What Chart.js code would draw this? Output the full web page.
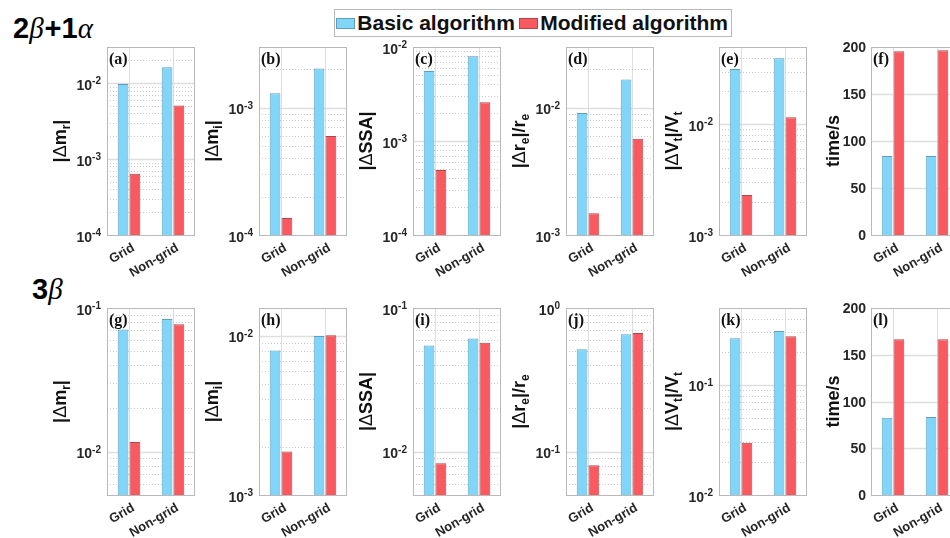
<!DOCTYPE html>
<html>
<head>
<meta charset="utf-8">
<script src="https://cdn.jsdelivr.net/npm/chart.js@4.4.1/dist/chart.umd.min.js"></script>
<style>
  html, body { margin: 0; padding: 0; background: #fff; }
  body { width: 950px; height: 538px; overflow: hidden; position: relative; font-family: 'Liberation Sans', Arial, sans-serif; }
  canvas.panel { position: absolute; }
  #legend { position: absolute; left: 334px; top: 9px; width: 396px; height: 26px; border: 1px solid #b8b8b8; background: #fff;
            display: flex; align-items: center; font-weight: bold; font-size: 21px; color: #111; white-space: nowrap; }
  #legend .sw { display: inline-block; width: 18px; height: 9px; border: 1px solid; margin: 0 2px 0 1px; }
  #legend .lbl { margin-right: 3px; }
  .rowTitle { position: absolute; font-size: 29px; color: #000; white-space: nowrap; line-height: 1; }
  .rowTitle b { font-family: 'Liberation Sans', Arial, sans-serif; font-weight: bold; }
  .rowTitle i { font-family: 'Liberation Serif', 'Times New Roman', serif; font-style: italic; font-weight: normal; padding-right: 1px; }
</style>
</head>
<body>
<div id="legend"></div>
<div class="rowTitle" style="left:13px; top:14px;"><b>2</b><i>β</i><b>+1</b><i>α</i></div>
<div class="rowTitle" style="left:32px; top:275px;"><b>3</b><i>β</i></div>

<script>
// Categories and series
const categories = ['Grid', 'Non-grid'];
const seriesNames = ['Basic algorithm', 'Modified algorithm'];
const panelTags = ['(a)', '(b)', '(c)', '(d)', '(e)', '(f)', '(g)', '(h)', '(i)', '(j)', '(k)', '(l)'];

// Values per panel: [Grid, Non-grid]
const basicValues = [
  [0.0098, 0.0162], [1.30e-3, 2.03e-3], [5.55e-3, 7.96e-3], [9.1e-3, 0.0167], [0.0316, 0.0395], [84, 84],
  [0.071, 0.084], [8.1e-3, 1.00e-2], [0.0549, 0.0614], [0.516, 0.656], [0.265, 0.309], [82.7, 83.4]
];
const modifiedValues = [
  [6.4e-4, 5.1e-3], [1.36e-4, 6.0e-4], [4.9e-4, 2.58e-3], [1.48e-3, 5.7e-3], [2.3e-3, 0.0116], [195.4, 196.5],
  [0.0117, 0.0772], [1.88e-3, 1.01e-2], [8.3e-3, 0.0573], [0.0804, 0.67], [0.0298, 0.277], [166.5, 166.5]
];

// Axis limits and scale types
const yMin = [1e-4, 1e-4, 1e-4, 1e-3, 1e-3, 0, 5e-3, 1e-3, 5e-3, 5e-2, 1e-2, 0];
const yMax = [3e-2, 3e-3, 1e-2, 3e-2, 5e-2, 200, 1e-1, 1.5e-2, 1e-1, 1, 5e-1, 200];
const yLog = [true, true, true, true, true, false, true, true, true, true, true, false];
const timeTicks = [0, 50, 100, 150, 200];

// Y-axis titles as text runs (sub = subscript, sym = symbol glyph)
const yTitles = [
  [{t: '|'}, {t: 'Δ', sym: true}, {t: 'm'}, {t: 'r', sub: true}, {t: '|'}],
  [{t: '|'}, {t: 'Δ', sym: true}, {t: 'm'}, {t: 'i', sub: true}, {t: '|'}],
  [{t: '|'}, {t: 'Δ', sym: true}, {t: 'SSA|'}],
  [{t: '|'}, {t: 'Δ', sym: true}, {t: 'r'}, {t: 'e', sub: true}, {t: '|/r'}, {t: 'e', sub: true}],
  [{t: '|'}, {t: 'Δ', sym: true}, {t: 'V'}, {t: 't', sub: true}, {t: '|/V'}, {t: 't', sub: true}],
  [{t: 'time/s'}]
];

// Style
const BLUE = '#80d5f9', BLUE_EDGE = '#5f9fbd';
const RED = '#fa5a5f', RED_EDGE = '#b2464b';
const BOX = '#b9b9b9', GRID_MAJOR = '#dedede', GRID_MINOR = '#c9c9c9';
const SANS = "'Liberation Sans', Arial, sans-serif";
const SERIF = "'Liberation Serif', 'Times New Roman', serif";

// Legend
(function buildLegend() {
  const lg = document.getElementById('legend');
  const fills = [[BLUE, BLUE_EDGE], [RED, RED_EDGE]];
  seriesNames.forEach((name, i) => {
    const sw = document.createElement('span');
    sw.className = 'sw';
    sw.style.background = fills[i][0];
    sw.style.borderColor = fills[i][1];
    const tx = document.createElement('span');
    tx.className = 'lbl';
    tx.textContent = name;
    lg.appendChild(sw);
    lg.appendChild(tx);
  });
})();

// Panel geometry
const colLeft = [107, 259, 413, 566, 719, 871];
const rowTop = [47, 308];
const rowH = [188, 187];
const PLOT_W = 88;
const PAD_L = 100, PAD_T = 12, PAD_R = 4, PAD_B = 50;

function drawRuns(ctx, runs, size) {
  const parts = runs.map(r => {
    const f = r.sub ? `bold ${Math.round(size * 0.68)}px ${SANS}`
            : r.sym ? `${size}px ${SANS}`
            : `bold ${size}px ${SANS}`;
    ctx.font = f;
    return {r, f, w: ctx.measureText(r.t).width};
  });
  const total = parts.reduce((s, p) => s + p.w, 0);
  let x = -total / 2;
  ctx.textBaseline = 'middle';
  ctx.textAlign = 'left';
  parts.forEach(p => {
    ctx.font = p.f;
    ctx.fillText(p.r.t, x, p.r.sub ? 6 : 0);
    x += p.w;
  });
}

const panelDecor = {
  id: 'panelDecor',
  beforeDatasetsDraw(chart, args, opts) {
    const {ctx, chartArea: a, scales: {x, y}} = chart;
    const p = opts.index;
    ctx.save();
    // vertical grid at categories
    ctx.strokeStyle = GRID_MAJOR;
    ctx.lineWidth = 1;
    categories.forEach((c, i) => {
      const px = Math.round(x.getPixelForValue(i)) + 0.5;
      ctx.beginPath(); ctx.moveTo(px, a.top); ctx.lineTo(px, a.bottom); ctx.stroke();
    });
    if (yLog[p]) {
      const k0 = Math.floor(Math.log10(yMin[p]) + 1e-9), k1 = Math.ceil(Math.log10(yMax[p]) - 1e-9);
      for (let k = k0; k <= k1; k++) {
        for (let m = 1; m <= 9; m++) {
          const v = m * Math.pow(10, k);
          if (v <= yMin[p] * 1.0001 || v >= yMax[p] * 0.9999) continue;
          const py = Math.round(y.getPixelForValue(v)) + 0.5;
          ctx.beginPath();
          if (m === 1) { ctx.setLineDash([]); ctx.strokeStyle = GRID_MAJOR; ctx.lineWidth = 1.6; }
          else { ctx.setLineDash([1, 2]); ctx.strokeStyle = GRID_MINOR; ctx.lineWidth = 1; }
          ctx.moveTo(a.left, py); ctx.lineTo(a.right, py); ctx.stroke();
        }
      }
    } else {
      ctx.setLineDash([]);
      ctx.strokeStyle = GRID_MAJOR; ctx.lineWidth = 1.4;
      timeTicks.forEach(v => {
        if (v <= yMin[p] || v >= yMax[p]) return;
        const py = Math.round(y.getPixelForValue(v)) + 0.5;
        ctx.beginPath(); ctx.moveTo(a.left, py); ctx.lineTo(a.right, py); ctx.stroke();
      });
    }
    ctx.restore();
  },
  afterDatasetsDraw(chart, args, opts) {
    const {ctx, chartArea: a, scales: {x, y}} = chart;
    const p = opts.index;
    ctx.save();
    // axes box
    ctx.strokeStyle = BOX; ctx.lineWidth = 1; ctx.setLineDash([]);
    ctx.strokeRect(Math.round(a.left) + 0.5, Math.round(a.top) + 0.5, Math.round(a.right - a.left) - 1, Math.round(a.bottom - a.top));
    ctx.fillStyle = '#262626';
    // y tick labels
    if (yLog[p]) {
      const k0 = Math.ceil(Math.log10(yMin[p]) - 1e-9), k1 = Math.floor(Math.log10(yMax[p]) + 1e-9);
      for (let k = k0; k <= k1; k++) {
        const py = y.getPixelForValue(Math.pow(10, k));
        const ex = (k < 0 ? '-' : '') + Math.abs(k);
        ctx.font = `bold 14px ${SANS}`;
        const wb = ctx.measureText('10').width;
        ctx.font = `bold 10px ${SANS}`;
        const we = ctx.measureText(ex).width;
        const x0 = a.left - 6 - wb - we;
        ctx.textAlign = 'left'; ctx.textBaseline = 'alphabetic';
        ctx.font = `bold 14px ${SANS}`;
        ctx.fillText('10', x0, py + 6.5);
        ctx.font = `bold 10px ${SANS}`;
        ctx.fillText(ex, x0 + wb, py + 1);
      }
    } else {
      ctx.font = `bold 14px ${SANS}`;
      ctx.textAlign = 'right'; ctx.textBaseline = 'alphabetic';
      timeTicks.forEach(v => {
        const py = y.getPixelForValue(v);
        ctx.fillText(String(v), a.left - 5, py + 5);
      });
    }
    // category labels, rotated
    ctx.font = `bold 13px ${SANS}`;
    categories.forEach((c, i) => {
      const px = x.getPixelForValue(i);
      ctx.save();
      ctx.translate(px + 4.5, a.bottom + 12);
      ctx.rotate(-Math.PI / 6);
      ctx.textAlign = 'right'; ctx.textBaseline = 'middle';
      ctx.fillText(c, 0, 0);
      ctx.restore();
    });
    // panel tag
    ctx.fillStyle = '#111';
    ctx.font = `bold 16px ${SERIF}`;
    ctx.textAlign = 'left'; ctx.textBaseline = 'alphabetic';
    ctx.fillText(panelTags[p], a.left + 2, a.top + 17);
    // y title
    ctx.save();
    ctx.fillStyle = '#111';
    const tx = a.left - (yLog[p] ? 46 : 37);
    ctx.translate(tx, (a.top + a.bottom) / 2);
    ctx.rotate(-Math.PI / 2);
    drawRuns(ctx, yTitles[p % 6], 18);
    ctx.restore();
    ctx.restore();
  }
};

for (let p = 0; p < 12; p++) {
  const row = p < 6 ? 0 : 1, col = p % 6;
  const cv = document.createElement('canvas');
  cv.className = 'panel';
  const w = PAD_L + PLOT_W + PAD_R, h = PAD_T + rowH[row] + PAD_B;
  cv.width = w; cv.height = h;
  cv.style.width = w + 'px'; cv.style.height = h + 'px';
  cv.style.left = (colLeft[col] - PAD_L) + 'px';
  cv.style.top = (rowTop[row] - PAD_T) + 'px';
  document.body.appendChild(cv);

  new Chart(cv, {
    type: 'bar',
    data: {
      labels: categories,
      datasets: [
        {label: seriesNames[0], data: basicValues[p], backgroundColor: BLUE, borderColor: BLUE_EDGE, borderWidth: 1},
        {label: seriesNames[1], data: modifiedValues[p], backgroundColor: RED, borderColor: RED_EDGE, borderWidth: 1}
      ]
    },
    options: {
      responsive: false,
      animation: false,
      devicePixelRatio: 1,
      layout: {padding: {left: PAD_L, top: PAD_T, right: PAD_R, bottom: 0}},
      datasets: {bar: {categoryPercentage: 0.54, barPercentage: 0.9}},
      plugins: {legend: {display: false}, tooltip: {enabled: false}, panelDecor: {index: p}},
      scales: {
        x: {
          type: 'category', offset: true,
          grid: {display: false}, border: {display: false}, ticks: {display: false},
          afterFit(s) { s.height = PAD_B; }
        },
        y: {
          type: yLog[p] ? 'logarithmic' : 'linear',
          min: yMin[p], max: yMax[p],
          grid: {display: false}, border: {display: false}, ticks: {display: false},
          afterFit(s) { s.width = 0; }
        }
      }
    },
    plugins: [panelDecor]
  });
}
</script>
</body>
</html>
